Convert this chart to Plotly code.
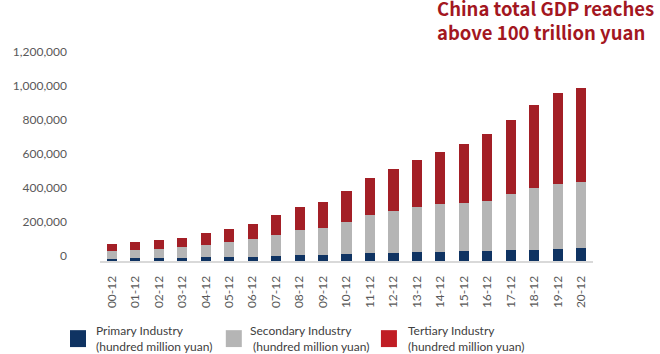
import plotly.graph_objects as go

categories = ["00-12", "01-12", "02-12", "03-12", "04-12", "05-12", "06-12", "07-12", "08-12", "09-12",
              "10-12", "11-12", "12-12", "13-12", "14-12", "15-12", "16-12", "17-12", "18-12", "19-12", "20-12"]
primary = [14717, 15502, 16190, 16970, 20904, 21807, 23317, 27674, 32464, 33584,
           38431, 44782, 49085, 53028, 55626, 57775, 60139, 62100, 64745, 70474, 77754]
secondary = [45665, 49661, 54106, 62697, 74287, 88084, 104362, 126634, 149957, 160172,
             191630, 227039, 244639, 261952, 277283, 281339, 295428, 331581, 364835, 380671, 384255]
tertiary = [39898, 45700, 51422, 57754, 66649, 77428, 91760, 115785, 136824, 154762,
            182059, 216120, 244856, 277984, 310654, 349745, 390828, 438356, 489701, 539721, 553977]
y_ticks = [0, 200000, 400000, 600000, 800000, 1000000, 1200000]

series_names = ["Primary Industry", "Secondary Industry", "Tertiary Industry"]
series_sub = ["(hundred million yuan)", " (hundred million yuan)", "(hundred million yuan)"]
bar_colors = ["#0f3362", "#b5b5b5", "#a31f26"]
legend_colors = ["#0f3362", "#b5b5b5", "#c01d24"]
title_text = "China total GDP reaches<br>above 100 trillion yuan"

W, H = 660, 354
L, R, T, B = 100, 592.6, 56.5, 261.5

def px(x):
    return (x - L) / (R - L)

def py(y):
    return (B - y) / (B - T)

fig = go.Figure()
for vals, name, col in zip([primary, secondary, tertiary], series_names, bar_colors):
    fig.add_trace(go.Bar(x=categories, y=vals, name=name, marker_color=col,
                         marker_line_width=0, showlegend=False))

fig.update_layout(
    barmode="stack", bargap=0.57,
    width=W, height=H,
    margin=dict(l=L, r=W - R, t=T, b=H - B, pad=0),
    plot_bgcolor="white", paper_bgcolor="white",
    font=dict(family="Lato", size=12, color="#595959"),
    xaxis=dict(type="category", showline=True, linecolor="#d9d9d9", linewidth=2, showgrid=False,
               tickangle=-90, ticks="", tickfont=dict(family="Lato", size=12, color="#595959"),
               ticklabelstandoff=8),
    yaxis=dict(range=[0, 1200000], tickvals=y_ticks, tickformat=",d", showgrid=False,
               zeroline=False, showline=False, ticks="",
               tickfont=dict(family="Lato", size=12, color="#595959"),
               ticklabelstandoff=32, ticklabelshift=-5),
)

# title
fig.add_annotation(text="<b>%s</b>" % title_text, xref="paper", yref="paper", x=px(435), y=py(19.5),
                   xanchor="left", yanchor="middle", align="left", showarrow=False,
                   font=dict(family="Noto Sans CJK SC", size=18.5, color="#a3171f"))

# legend
sq_x = [70, 225.7, 380.7]
txt_x = [95, 249, 406.7]
for i in range(3):
    fig.add_shape(type="rect", xref="paper", yref="paper",
                  x0=px(sq_x[i]), x1=px(sq_x[i] + 16), y0=py(331), y1=py(348),
                  fillcolor=legend_colors[i], line_width=0)
    fig.add_annotation(text=series_names[i] + "<br>" + series_sub[i], xref="paper", yref="paper",
                       x=px(txt_x[i] - 1), y=py(339.5),
                       xanchor="left", yanchor="middle", align="left", showarrow=False,
                       font=dict(family="Lato", size=12, color="#404040"))

fig.write_html("out.html")
